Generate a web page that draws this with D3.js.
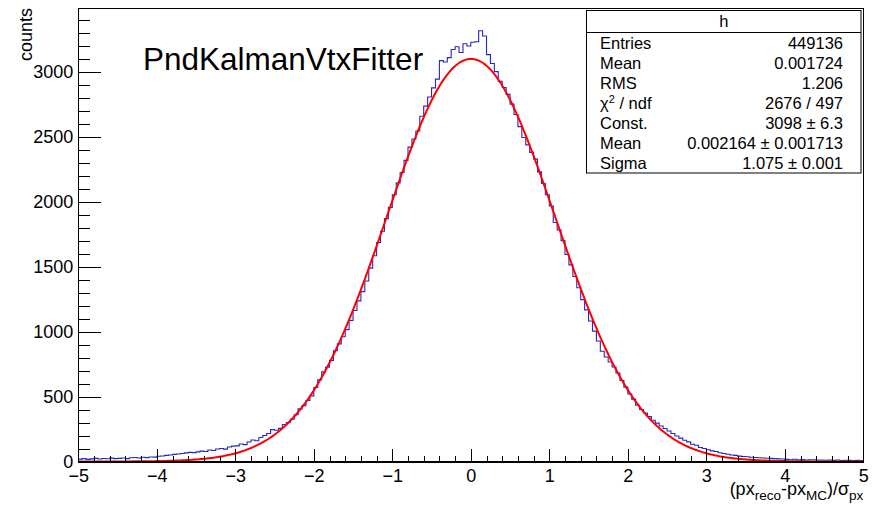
<!DOCTYPE html>
<html><head><meta charset="utf-8">
<script src="https://cdn.jsdelivr.net/npm/d3@7"></script>
<style>
html,body{margin:0;padding:0;background:#fff;}
svg{display:block;font-family:"Liberation Sans",Arial,Helvetica,sans-serif;}
</style>
</head><body>
<svg id="c" width="879" height="506"></svg>
<script>
// ---- data ----
const xMin = -5, xMax = 5, binWidth = 0.05;
const counts = [
  18, 22, 16, 20, 24, 19, 23, 21, 26, 22,
  24, 27, 22, 29, 31, 27, 33, 30, 35, 34,
  40, 42, 47, 50, 55, 58, 62, 66, 70, 68,
  74, 80, 77, 88, 85, 96, 100, 95, 112, 118,
  120, 135, 130, 150, 165, 160, 185, 200, 215, 245,
  240, 255, 285, 300, 325, 360, 405, 430, 470, 505,
  570, 628, 690, 725, 778, 852, 905, 960, 1015, 1085,
  1162, 1236, 1307, 1389, 1488, 1583, 1685, 1772, 1869, 1956,
  2053, 2144, 2224, 2317, 2419, 2482, 2543, 2657, 2735, 2805,
  2875, 2943, 3085, 3075, 3108, 3171, 3192, 3147, 3215, 3197,
  3227, 3230, 3315, 3275, 3131, 3063, 3000, 2925, 2878, 2825,
  2750, 2670, 2577, 2493, 2437, 2379, 2327, 2229, 2139, 2053,
  1966, 1839, 1782, 1700, 1593, 1513, 1424, 1337, 1246, 1167,
  1081, 1003, 927, 849, 804, 766, 727, 681, 623, 572,
  520, 480, 433, 400, 373, 345, 318, 295, 273, 254,
  235, 216, 196, 180, 163, 151, 133, 125, 108, 100,
  91, 82, 77, 67, 61, 56, 50, 47, 41, 38,
  36, 33, 31, 29, 27, 25, 24, 22, 20, 19,
  16, 14, 17, 13, 15, 12, 14, 13, 11, 12,
  10, 12, 9, 11, 8, 10, 9, 7, 9, 8
];
const fitConst = 3098, fitMean = 0.002164, fitSigma = 1.075;
const yMaxValue = 3490;
const yTickValues = [0, 500, 1000, 1500, 2000, 2500, 3000];
const yMinorStep = 100;
const xTickValues = [-5, -4, -3, -2, -1, 0, 1, 2, 3, 4, 5];
const xMinorStep = 0.2;
const histName = "h";
const statLabels = ["Entries", "Mean", "RMS", "CHI", "Const.", "Mean", "Sigma"];
const statValues = ["449136", "0.001724", "1.206", "2676 / 497", "3098 \u00b1 6.3", "0.002164 \u00b1 0.001713", "1.075 \u00b1 0.001"];
const titleText = "PndKalmanVtxFitter";
const yTitle = "counts";

// ---- layout ----
const frame = {left: 78.3, right: 863.3, top: 8, bottom: 461.5};
const svg = d3.select("#c");
const x = d3.scaleLinear().domain([xMin, xMax]).range([frame.left, frame.right]);
const y = d3.scaleLinear().domain([0, yMaxValue]).range([frame.bottom, frame.top]);

svg.append("rect").attr("width", 879).attr("height", 506).attr("fill", "#fff");

// histogram step path
const pts = [];
counts.forEach((c, i) => {
  const x0 = xMin + i * binWidth, x1 = x0 + binWidth;
  pts.push([x(x0), y(c)]);
  pts.push([x(x1), y(c)]);
});
svg.append("path")
  .attr("d", d3.line()(pts))
  .attr("fill", "none")
  .attr("stroke", "#2626c4")
  .attr("stroke-width", 1.1);

// fit curve
const fx = d3.range(xMin, xMax + 1e-9, 0.02);
svg.append("path")
  .attr("d", d3.line()
    .x(d => x(d))
    .y(d => y(fitConst * Math.exp(-0.5 * Math.pow((d - fitMean) / fitSigma, 2))))(fx))
  .attr("fill", "none")
  .attr("stroke", "#ff0000")
  .attr("stroke-width", 2);

// frame
svg.append("rect")
  .attr("x", frame.left).attr("y", frame.top)
  .attr("width", frame.right - frame.left).attr("height", frame.bottom - frame.top)
  .attr("fill", "none").attr("stroke", "#000").attr("stroke-width", 1)
  .attr("shape-rendering", "crispEdges");

// y axis
const yMinor = d3.range(0, yMaxValue, yMinorStep).filter(v => v % 500 !== 0);
const gyMinor = svg.append("g").attr("transform", `translate(${frame.left},0)`)
  .call(d3.axisLeft(y).tickValues(yMinor).tickSize(-12).tickSizeOuter(0).tickFormat(""));
const gy = svg.append("g").attr("transform", `translate(${frame.left},0)`)
  .call(d3.axisLeft(y).tickValues(yTickValues).tickSize(-23).tickSizeOuter(0).tickPadding(5).tickFormat(d3.format("d")));

// x axis
const xMinor = d3.range(xMin, xMax + 1e-9, xMinorStep).filter(v => Math.abs(v - Math.round(v)) > 1e-6);
const gxMinor = svg.append("g").attr("transform", `translate(0,${frame.bottom})`)
  .call(d3.axisBottom(x).tickValues(xMinor).tickSize(-6).tickSizeOuter(0).tickFormat(""));
const gx = svg.append("g").attr("transform", `translate(0,${frame.bottom})`)
  .call(d3.axisBottom(x).tickValues(xTickValues).tickSize(-13).tickSizeOuter(0).tickPadding(8).tickFormat(d3.format("d")));

[gy, gyMinor, gx, gxMinor].forEach(g => {
  g.select(".domain").attr("stroke", "#000").attr("shape-rendering", "crispEdges");
  g.selectAll(".tick line").attr("stroke", "#000").attr("shape-rendering", "crispEdges");
  g.selectAll("text").attr("font-size", 18).attr("fill", "#000")
    .attr("font-family", '"Liberation Sans",Arial,sans-serif');
});

// axis titles
svg.append("text")
  .attr("transform", "translate(31.5,8) rotate(-90)")
  .attr("text-anchor", "end")
  .attr("font-size", 18)
  .text(yTitle);

const xt = svg.append("text")
  .attr("x", frame.right).attr("y", 495)
  .attr("text-anchor", "end")
  .attr("font-size", 18);
xt.append("tspan").text("(px");
xt.append("tspan").attr("font-size", 13.5).attr("dy", 5).text("reco");
xt.append("tspan").attr("dy", -5).text("-px");
xt.append("tspan").attr("font-size", 13.5).attr("dy", 5).text("MC");
xt.append("tspan").attr("dy", -5).text(")/\u03c3");
xt.append("tspan").attr("font-size", 13.5).attr("dy", 5).text("px");

// title
svg.append("text")
  .attr("x", 143).attr("y", 70)
  .attr("font-size", 31.5)
  .text(titleText);

// stats box
const box = {x: 586.5, y: 10.5, w: 274.5, h: 162.5};
svg.append("rect")
  .attr("x", box.x).attr("y", box.y).attr("width", box.w).attr("height", box.h)
  .attr("fill", "#fff").attr("stroke", "#000").attr("stroke-width", 1);
svg.append("line")
  .attr("x1", box.x).attr("x2", box.x + box.w)
  .attr("y1", 32.5).attr("y2", 32.5)
  .attr("stroke", "#000").attr("stroke-width", 1);
svg.append("text")
  .attr("x", box.x + box.w / 2).attr("y", 27)
  .attr("text-anchor", "middle").attr("font-size", 16.5)
  .text(histName);

statLabels.forEach((lab, i) => {
  const by = 48.5 + i * 20.05;
  const t = svg.append("text").attr("x", 600).attr("y", by).attr("font-size", 16.5);
  if (lab === "CHI") {
    t.append("tspan").text("\u03c7");
    t.append("tspan").attr("font-size", 11).attr("dy", -6).text("2");
    t.append("tspan").attr("dy", 6).text(" / ndf");
  } else {
    t.text(lab);
  }
  svg.append("text").attr("x", 843).attr("y", by)
    .attr("text-anchor", "end").attr("font-size", 16.5)
    .text(statValues[i]);
});
</script>
</body></html>
